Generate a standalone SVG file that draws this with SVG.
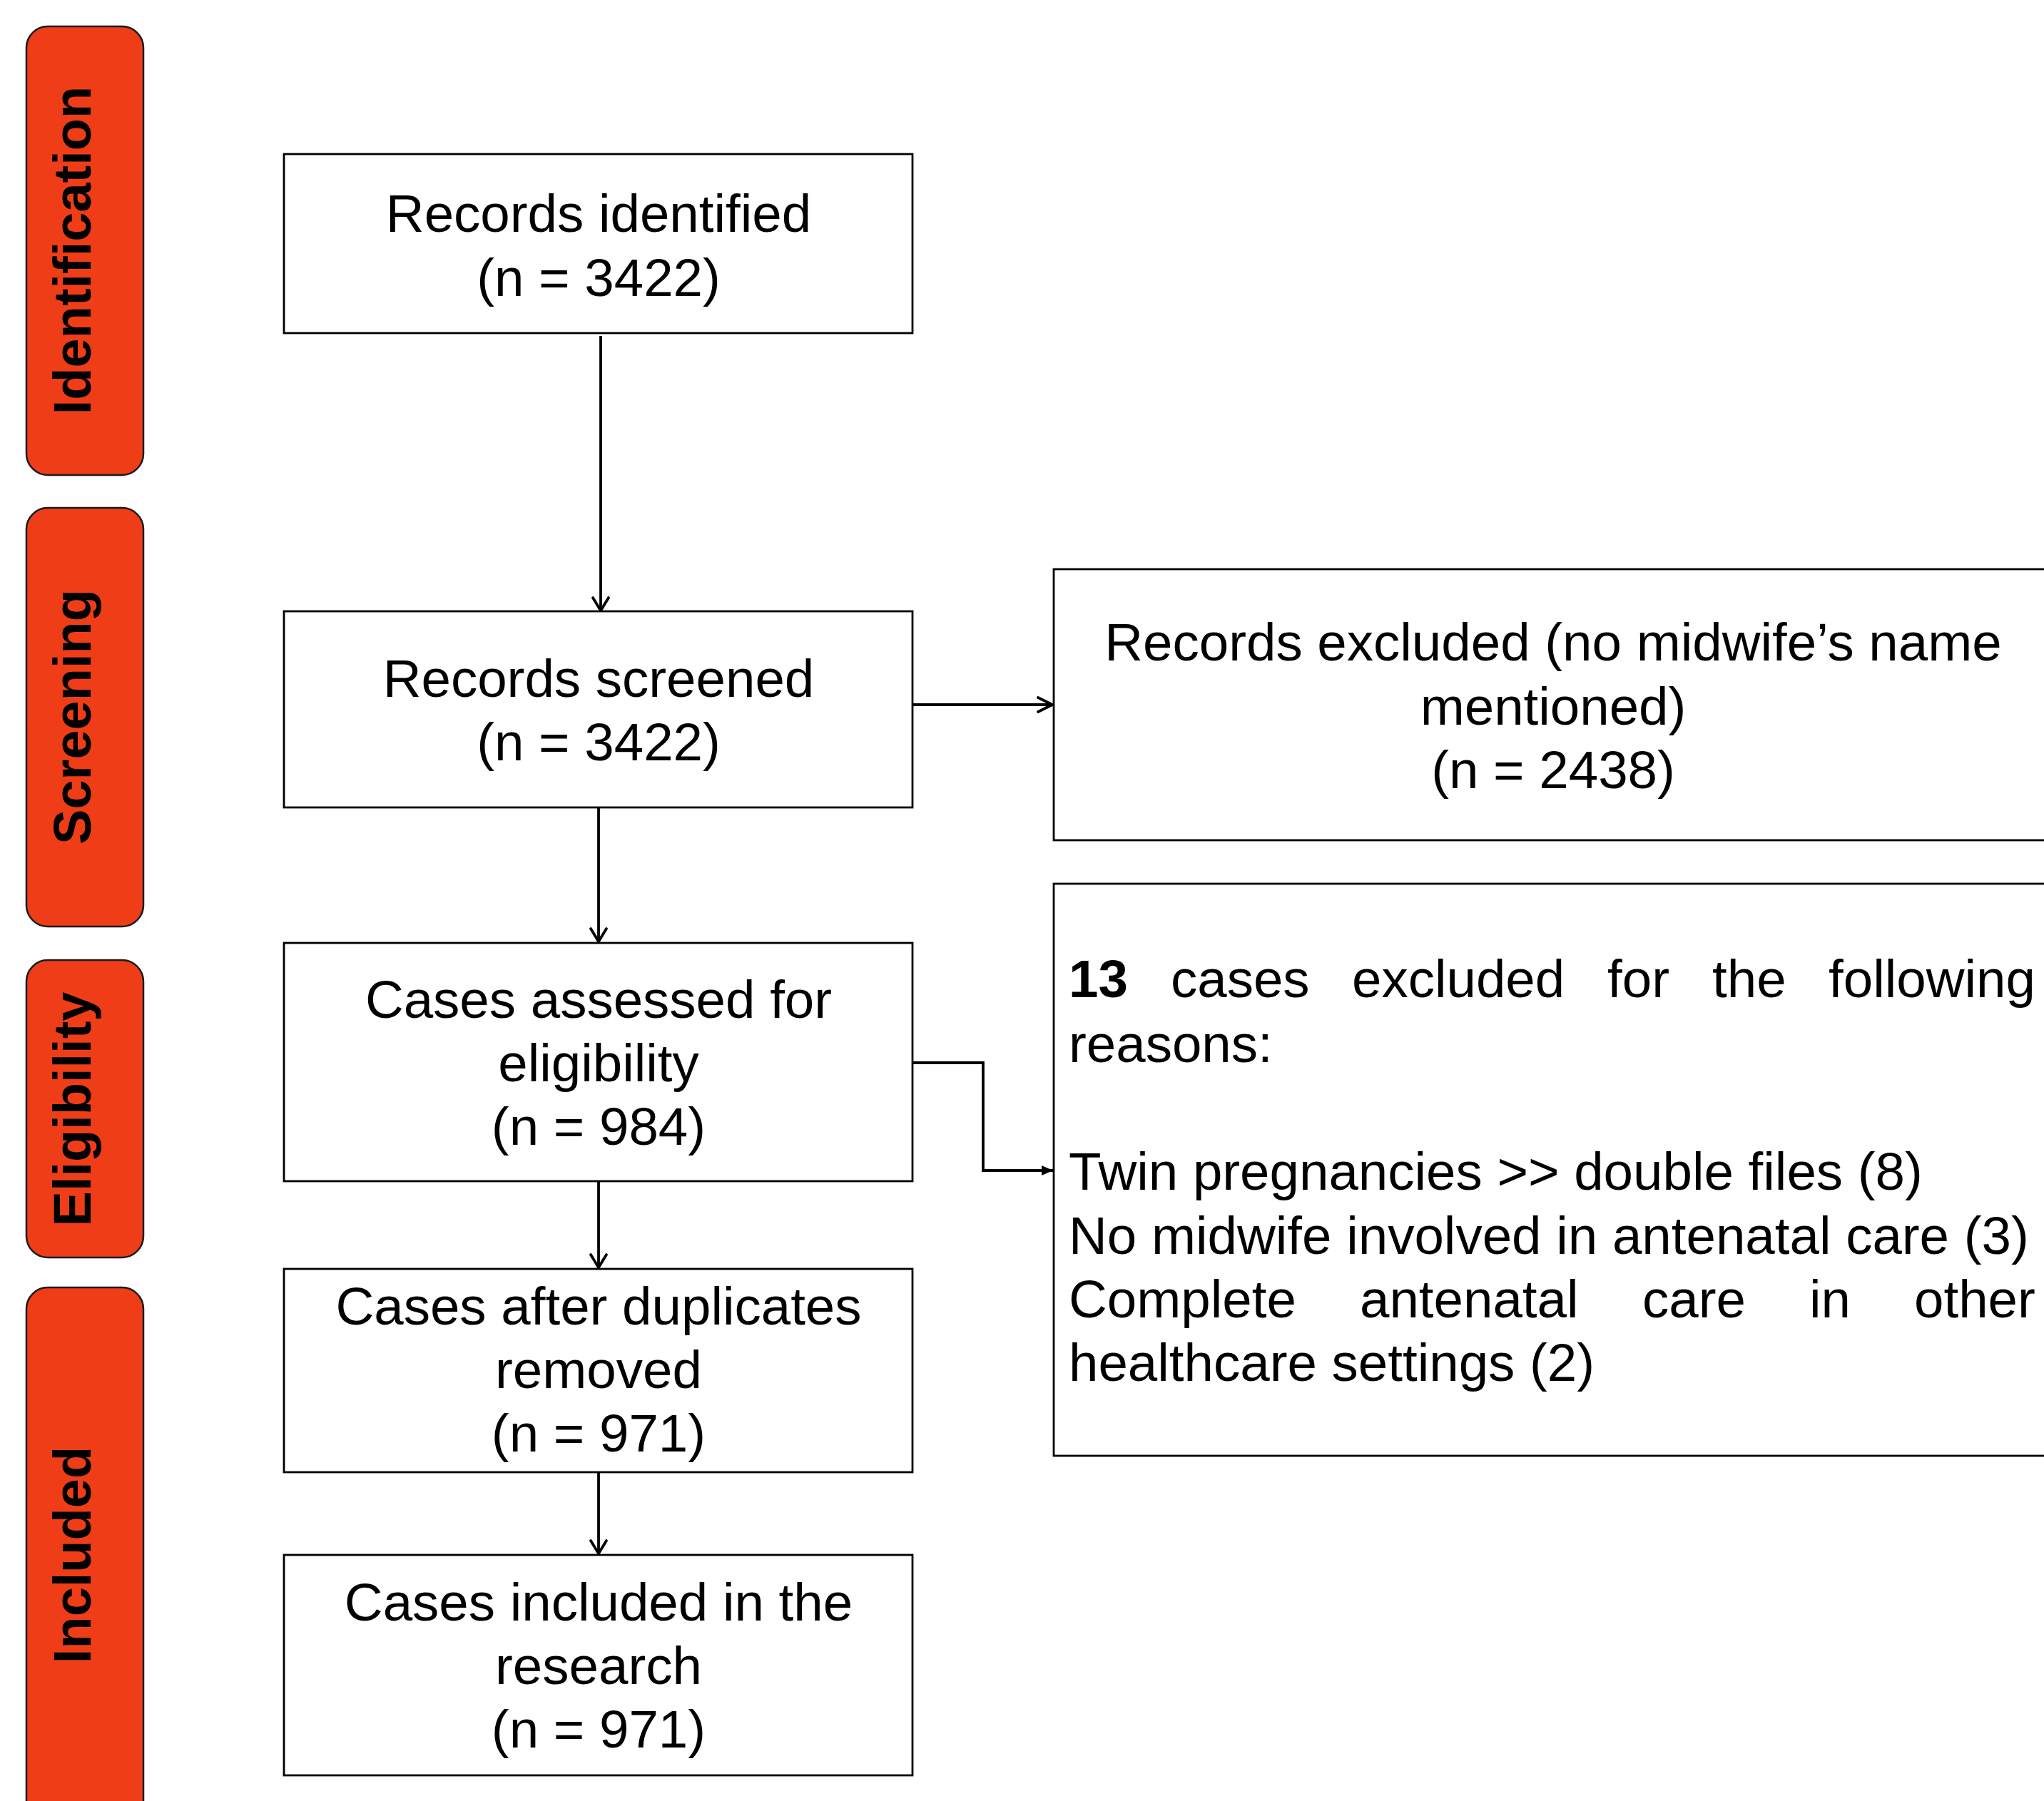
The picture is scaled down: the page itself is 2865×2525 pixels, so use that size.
<svg xmlns="http://www.w3.org/2000/svg" width="2865" height="2525" viewBox="0 0 2865 2525">
<style>
.tab{fill:#EF3D18;stroke:#1a1a1a;stroke-width:2.5}
.tabt{font-family:"Liberation Sans",Arial,sans-serif;font-weight:bold;font-size:74px;fill:#000;text-anchor:middle}
.box{fill:#fff;stroke:#000;stroke-width:2.8}
.t{font-family:"Liberation Sans",Arial,sans-serif;font-size:74.5px;fill:#000}
.c{text-anchor:middle}
.ln{fill:none;stroke:#000;stroke-width:3.8}
.ah{fill:none;stroke:#000;stroke-width:3.8;stroke-linecap:round;stroke-linejoin:round}
</style>
<defs>
<marker id="tri" viewBox="0 0 16 14" refX="16" refY="7" markerWidth="16" markerHeight="14" markerUnits="userSpaceOnUse" orient="auto">
<path d="M0,0 L16,7 L0,14 Z" fill="#000"/>
</marker>
</defs>
<rect width="2865" height="2525" fill="#fff"/>

<g id="tab-identification">
<rect class="tab" x="37" y="37" width="164" height="629" rx="30"/>
<text class="tabt" transform="translate(127,351) rotate(-90)">Identification</text>
</g>
<g id="tab-screening">
<rect class="tab" x="37" y="712" width="164" height="587" rx="30"/>
<text class="tabt" transform="translate(127,1005) rotate(-90)">Screening</text>
</g>
<g id="tab-eligibility">
<rect class="tab" x="37" y="1346" width="164" height="417" rx="30"/>
<text class="tabt" transform="translate(127,1555) rotate(-90)">Eligibility</text>
</g>
<g id="tab-included">
<rect class="tab" x="37" y="1805" width="164" height="750" rx="30"/>
<text class="tabt" transform="translate(127,2180) rotate(-90)">Included</text>
</g>

<g id="connectors">
<line class="ln" x1="842" y1="471" x2="842" y2="856"/>
<path class="ah" d="M831,838 L842,856 L853,838"/>
<line class="ln" x1="839" y1="1132" x2="839" y2="1320"/>
<path class="ah" d="M828,1302 L839,1320 L850,1302"/>
<line class="ln" x1="839" y1="1656" x2="839" y2="1777"/>
<path class="ah" d="M828,1759 L839,1777 L850,1759"/>
<line class="ln" x1="839" y1="2064" x2="839" y2="2178"/>
<path class="ah" d="M828,2160 L839,2178 L850,2160"/>
<line class="ln" x1="1280" y1="988" x2="1475" y2="988"/>
<path class="ah" d="M1455,978 L1475,988 L1455,998"/>
<path class="ln" d="M1280,1490 L1378,1490 L1378,1641 L1476,1641" stroke-width="3.2" marker-end="url(#tri)"/>
</g>

<g id="node-identified">
<rect class="box" x="398" y="216" width="881" height="251"/>
<text class="t c" x="839" y="325">Records identified</text>
<text class="t c" x="839" y="415">(n = 3422)</text>
</g>
<g id="node-screened">
<rect class="box" x="398" y="857" width="881" height="275"/>
<text class="t c" x="839" y="977">Records screened</text>
<text class="t c" x="839" y="1066">(n = 3422)</text>
</g>
<g id="node-assessed">
<rect class="box" x="398" y="1322" width="881" height="334"/>
<text class="t c" x="839" y="1427">Cases assessed for</text>
<text class="t c" x="839" y="1516">eligibility</text>
<text class="t c" x="839" y="1605">(n = 984)</text>
</g>
<g id="node-duplicates">
<rect class="box" x="398" y="1779" width="881" height="285"/>
<text class="t c" x="839" y="1857">Cases after duplicates</text>
<text class="t c" x="839" y="1946">removed</text>
<text class="t c" x="839" y="2035">(n = 971)</text>
</g>
<g id="node-included">
<rect class="box" x="398" y="2180" width="881" height="309"/>
<text class="t c" x="839" y="2272">Cases included in the</text>
<text class="t c" x="839" y="2361">research</text>
<text class="t c" x="839" y="2450">(n = 971)</text>
</g>

<g id="node-excluded">
<rect class="box" x="1477" y="798" width="1401" height="380"/>
<text class="t c" x="2177" y="926">Records excluded (no midwife’s name</text>
<text class="t c" x="2177" y="1016">mentioned)</text>
<text class="t c" x="2177" y="1105">(n = 2438)</text>
</g>
<g id="node-reasons">
<rect class="box" x="1477" y="1239" width="1401" height="802"/>
<text class="t" y="1398"><tspan x="1498" font-weight="bold">13</tspan><tspan x="1641">cases</tspan><tspan x="1895">excluded</tspan><tspan x="2253">for</tspan><tspan x="2400">the</tspan><tspan x="2563">following</tspan></text>
<text class="t" x="1498" y="1489">reasons:</text>
<text class="t" x="1498" y="1668">Twin pregnancies &gt;&gt; double files (8)</text>
<text class="t" x="1498" y="1758">No midwife involved in antenatal care (3)</text>
<text class="t" y="1847"><tspan x="1498">Complete</tspan><tspan x="1906">antenatal</tspan><tspan x="2302">care</tspan><tspan x="2536">in</tspan><tspan x="2683">other</tspan></text>
<text class="t" x="1498" y="1936">healthcare settings (2)</text>
</g>
</svg>
